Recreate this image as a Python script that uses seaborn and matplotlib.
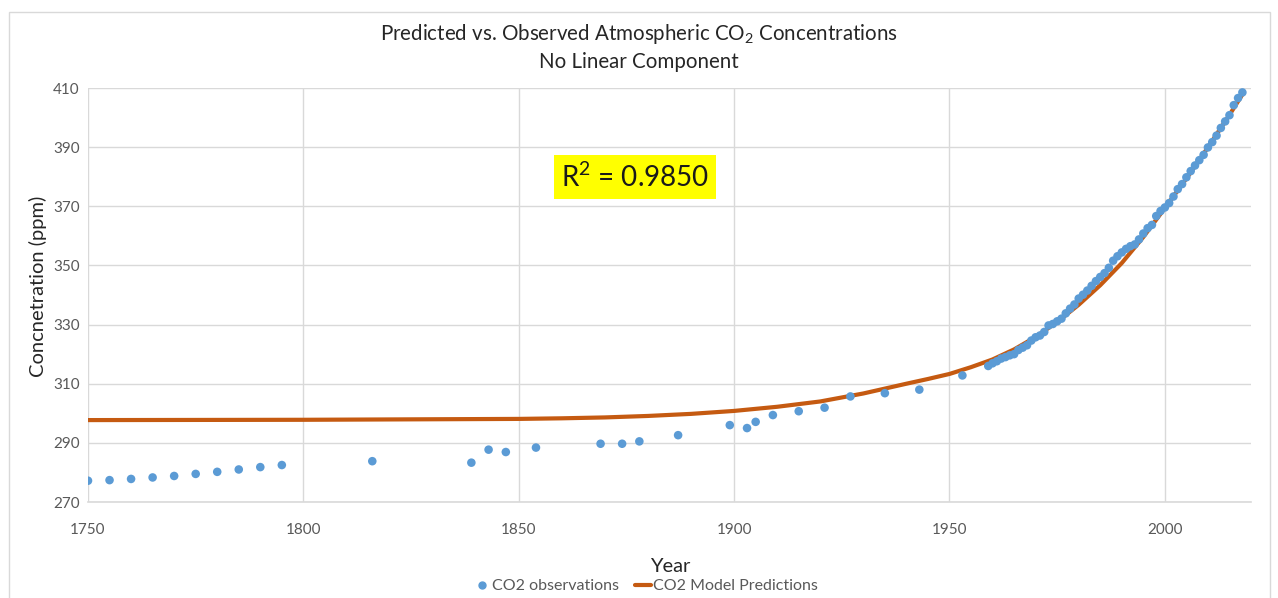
import matplotlib
matplotlib.use("Agg")
import matplotlib.pyplot as plt
import seaborn as sns
import pandas as pd
from matplotlib.lines import Line2D
from matplotlib.patches import Rectangle

# ---- data ----
obs_years = [1750, 1755, 1760, 1765, 1770, 1775, 1780, 1785, 1790, 1795,
             1816, 1839, 1843, 1847, 1854, 1869, 1874, 1878, 1887,
             1899, 1903, 1905, 1909, 1915, 1921, 1927, 1935, 1943, 1953,
             1959, 1960, 1961, 1962, 1963, 1964, 1965, 1966, 1967, 1968,
             1969, 1970, 1971, 1972, 1973, 1974, 1975, 1976, 1977, 1978,
             1979, 1980, 1981, 1982, 1983, 1984, 1985, 1986, 1987, 1988,
             1989, 1990, 1991, 1992, 1993, 1994, 1995, 1996, 1997, 1998,
             1999, 2000, 2001, 2002, 2003, 2004, 2005, 2006, 2007, 2008,
             2009, 2010, 2011, 2012, 2013, 2014, 2015, 2016, 2017, 2018]
obs_ppm = [277.2, 277.4, 277.8, 278.3, 278.8, 279.5, 280.2, 281.0, 281.8, 282.5,
           283.8, 283.3, 287.7, 286.9, 288.4, 289.7, 289.7, 290.5, 292.6,
           296.0, 295.0, 297.1, 299.4, 300.7, 301.9, 305.7, 306.8, 308.0, 312.8,
           316.0, 316.9, 317.6, 318.5, 319.0, 319.6, 320.0, 321.4, 322.2, 323.0,
           324.6, 325.7, 326.3, 327.5, 329.7, 330.2, 331.1, 332.0, 333.8, 335.4,
           336.8, 338.8, 340.1, 341.5, 343.1, 344.7, 346.1, 347.4, 349.2, 351.6,
           353.1, 354.4, 355.6, 356.5, 357.1, 358.8, 360.8, 362.6, 363.7, 366.7,
           368.4, 369.6, 371.1, 373.3, 375.8, 377.5, 379.8, 381.9, 383.8, 385.6,
           387.4, 389.9, 391.7, 393.9, 396.5, 398.7, 400.8, 404.2, 406.6, 408.5]

model_years = [1750, 1800, 1850, 1860, 1870, 1880, 1890, 1900, 1910, 1920,
               1930, 1940, 1945, 1950, 1955, 1960, 1965, 1970, 1975, 1980,
               1985, 1990, 1995, 2000, 2005, 2010, 2015, 2018]
model_ppm = [297.7, 297.8, 298.1, 298.3, 298.6, 299.1, 299.8, 300.8, 302.2, 304.0,
             306.7, 310.0, 311.6, 313.3, 315.6, 318.2, 321.6, 325.8, 330.9, 336.7,
             343.3, 350.8, 359.6, 369.4, 379.4, 389.9, 400.9, 407.8]

x_ticks = [1750, 1800, 1850, 1900, 1950, 2000]
y_ticks = [270, 290, 310, 330, 350, 370, 390, 410]

title_text = "Predicted vs. Observed Atmospheric CO$_2$ Concentrations\nNo Linear Component"
r2_text = "R$^2$ = 0.9850"
obs_label = "CO2 observations"
model_label = "CO2 Model Predictions"

obs_df = pd.DataFrame({"Year": obs_years, "ppm": obs_ppm})
model_df = pd.DataFrame({"Year": model_years, "ppm": model_ppm})

# ---- style ----
sns.set_theme(style="white")
FONT = "Lato"
plt.rcParams["font.family"] = [FONT, "DejaVu Sans"]
plt.rcParams["mathtext.fontset"] = "custom"
plt.rcParams["mathtext.rm"] = FONT
plt.rcParams["mathtext.it"] = FONT
plt.rcParams["mathtext.bf"] = FONT

BLUE = "#5B9BD5"
ORANGE = "#C55A11"
GRID = "#D9D9D9"
TXT = "#595959"

W, H = 1278, 598
fig = plt.figure(figsize=(W / 100, H / 100), dpi=100)
ax = fig.add_axes([88 / W, 1 - 502 / H, (1251 - 88) / W, (502 - 88) / H])

# chart border
fig.patches.append(Rectangle((9 / W, -0.05), (1270 - 9) / W, 1.05 - 12 / H,
                             transform=fig.transFigure, fill=False,
                             edgecolor=GRID, linewidth=1.0))

sns.lineplot(data=model_df, x="Year", y="ppm", ax=ax, color=ORANGE,
             linewidth=3.0, zorder=2, label=model_label, legend=False)
sns.scatterplot(data=obs_df, x="Year", y="ppm", ax=ax, color=BLUE, s=38,
                edgecolor="none", zorder=3, label=obs_label, legend=False)

ax.set_xlim(1750, 2020)
ax.set_ylim(270, 410)
ax.set_xticks(x_ticks)
ax.set_yticks(y_ticks)
ax.grid(True, color=GRID, linewidth=1.0)
ax.set_axisbelow(True)
for side in ["top", "right", "left"]:
    ax.spines[side].set_visible(False)
ax.spines["bottom"].set_color(GRID)
ax.spines["bottom"].set_linewidth(1.2)
ax.tick_params(axis="both", length=0, labelsize=11, labelcolor=TXT)
ax.tick_params(axis="x", pad=15)
ax.tick_params(axis="y", pad=6)

ax.set_xlabel("Year", fontsize=14.5, color="#262626")
ax.xaxis.set_label_coords((670 - 88) / (1251 - 88), (502 - 558) / (502 - 88))
ax.set_ylabel("Concnetration (ppm)", fontsize=14.5, color="#262626")
ax.yaxis.set_label_coords((47 - 88) / (1251 - 88), (502 - 286) / (502 - 88))

fig.text(0.5, 1 - 47 / H, title_text, ha="center", va="center",
         fontsize=14.8, color="#262626", linespacing=1.4)

fig.text(635 / W, 1 - 177 / H, r2_text, ha="center", va="center",
         fontsize=20, color="#1a1a1a",
         bbox=dict(boxstyle="square,pad=0.25", facecolor="#FFFF00", edgecolor="none"))

handles = [Line2D([], [], marker="o", linestyle="none", color=BLUE, markersize=5),
           Line2D([], [], color=ORANGE, linewidth=3)]
fig.legend(handles, [obs_label, model_label], loc="center",
           bbox_to_anchor=(646 / W, 1 - 586 / H), ncol=2, frameon=False,
           fontsize=11.5, handlelength=1.0, handletextpad=0.1, columnspacing=1.0,
           labelcolor=TXT)

fig.savefig("out.png", dpi=100, facecolor="white")
